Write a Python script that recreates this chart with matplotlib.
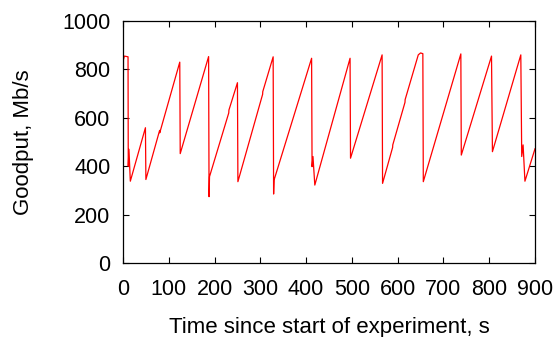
import matplotlib
matplotlib.use("Agg")
import matplotlib.pyplot as plt

# Goodput trace (time in s, goodput in Mb/s)
time_s = [0, 1, 3, 11, 11.5, 13, 16,
          49, 50,
          80, 80.3,
          124, 125,
          187, 188, 189,
          231, 231.4,
          250, 251,
          305, 305.3,
          328, 329, 330,
          412, 413, 415, 419,
          496, 497,
          566, 567,
          589, 589.3,
          616, 616.3,
          645, 650, 655, 656,
          738, 739,
          805, 807,
          869, 871, 874, 878, 900]
goodput = [345, 840, 855, 852, 400, 470, 338,
           559, 345,
           548, 538,
           830, 452,
           853, 274, 357,
           620, 632,
           745, 336,
           697, 708,
           852, 285, 343,
           846, 398, 440, 322,
           846, 433,
           860, 329,
           478, 488,
           664, 675,
           860, 868, 865, 336,
           864, 446,
           855, 460,
           860, 440, 488, 338, 472]

x_ticks = [0, 100, 200, 300, 400, 500, 600, 700, 800, 900]
y_ticks = [0, 200, 400, 600, 800, 1000]

plt.rcParams['font.family'] = ['Liberation Sans', 'DejaVu Sans']

fig = plt.figure(figsize=(5.58, 3.37), dpi=100)
ax = fig.add_axes([123/558, 74/337, (535-123)/558, (263-21)/337])
ax.plot(time_s, goodput, color='#ff0000', linewidth=0.9)

ax.set_xlim(0, 900)
ax.set_ylim(0, 1000)
ax.set_xticks(x_ticks)
ax.set_yticks(y_ticks)
ax.tick_params(direction='in', length=4, width=0.8, top=True, right=True,
               labelsize=15.5, colors='black')
ax.tick_params(axis='y', pad=9)
ax.tick_params(axis='x', pad=11.5)
for s in ax.spines.values():
    s.set_linewidth(0.9)
    s.set_color('black')

ax.set_xlabel('Time since start of experiment, s', fontsize=16, labelpad=12)
ax.set_ylabel('Goodput, Mb/s', fontsize=16, labelpad=20)

fig.savefig('out.png', dpi=100)
